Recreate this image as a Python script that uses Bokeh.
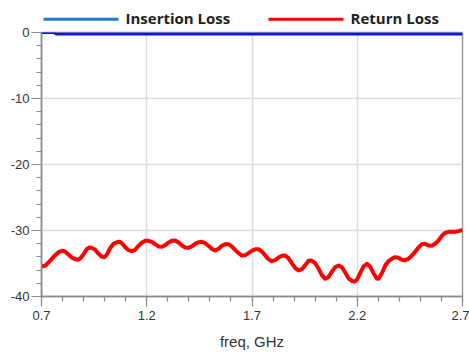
from bokeh.plotting import figure
from bokeh.layouts import column
from bokeh.models import FixedTicker, Range1d, PrintfTickFormatter
from bokeh.core.properties import value
from bokeh.embed import file_html
from bokeh.resources import INLINE

# Return loss (dB) vs frequency (GHz)
rl_freq = [0.700, 0.717, 0.733, 0.749, 0.765, 0.781, 0.797, 0.812, 0.828, 0.844,
           0.860, 0.873, 0.884, 0.900, 0.915, 0.926, 0.939, 0.955, 0.971, 0.987,
           0.998, 1.010, 1.026, 1.042, 1.058, 1.071, 1.082, 1.098, 1.113, 1.129,
           1.145, 1.161, 1.177, 1.193, 1.208, 1.224, 1.240, 1.256, 1.272, 1.288,
           1.303, 1.319, 1.335, 1.351, 1.367, 1.383, 1.398, 1.414, 1.430, 1.446,
           1.462, 1.478, 1.493, 1.509, 1.525, 1.541, 1.557, 1.573, 1.588, 1.604,
           1.620, 1.636, 1.652, 1.668, 1.683, 1.699, 1.715, 1.731, 1.747, 1.763,
           1.778, 1.794, 1.810, 1.826, 1.842, 1.858, 1.873, 1.889, 1.905, 1.921,
           1.937, 1.953, 1.968, 1.984, 2.000, 2.016, 2.032, 2.048, 2.063, 2.079,
           2.095, 2.111, 2.127, 2.143, 2.158, 2.174, 2.187, 2.198, 2.214, 2.230,
           2.246, 2.261, 2.277, 2.293, 2.301, 2.317, 2.333, 2.348, 2.364, 2.380,
           2.396, 2.412, 2.428, 2.443, 2.459, 2.475, 2.491, 2.507, 2.523, 2.539,
           2.554, 2.570, 2.586, 2.602, 2.618, 2.634, 2.649, 2.665, 2.681, 2.697,
           2.700]
rl_db = [-35.45, -35.35, -34.85, -34.29, -33.74, -33.28, -33.08, -33.18, -33.64, -34.09,
         -34.34, -34.44, -34.24, -33.59, -32.83, -32.58, -32.63, -32.93, -33.54, -33.99,
         -34.04, -33.69, -32.68, -32.02, -31.77, -31.72, -31.92, -32.53, -32.98, -33.13,
         -32.93, -32.32, -31.82, -31.57, -31.57, -31.72, -32.07, -32.42, -32.47, -32.22,
         -31.82, -31.57, -31.52, -31.82, -32.27, -32.58, -32.63, -32.42, -32.02, -31.77,
         -31.72, -31.92, -32.32, -32.78, -33.03, -32.78, -32.32, -32.07, -32.07, -32.42,
         -32.93, -33.43, -33.79, -33.74, -33.43, -33.08, -32.83, -32.83, -33.18, -33.79,
         -34.34, -34.65, -34.50, -34.09, -33.84, -33.79, -34.19, -34.95, -35.66, -36.06,
         -35.86, -35.25, -34.60, -34.55, -34.95, -35.76, -36.77, -37.32, -37.07, -36.26,
         -35.56, -35.30, -35.56, -36.36, -37.22, -37.63, -37.73, -37.48, -36.47, -35.45,
         -35.05, -35.45, -36.47, -37.27, -37.32, -36.47, -35.30, -34.65, -34.29, -34.04,
         -34.14, -34.44, -34.50, -34.29, -33.84, -33.23, -32.58, -32.07, -32.02, -32.27,
         -32.32, -32.02, -31.52, -30.81, -30.35, -30.20, -30.20, -30.20, -30.10, -29.95,
         -29.93]

# Insertion loss (dB)
il_freq = [0.70, 0.76, 0.77, 2.70]
il_db = [0.0, 0.0, -0.22, -0.22]

x_ticks = [0.7, 1.2, 1.7, 2.2, 2.7]
x_minor = [0.7, 0.8, 0.9, 1.0, 1.1, 1.2, 1.3, 1.4, 1.5, 1.6, 1.7, 1.8, 1.9, 2.0,
           2.1, 2.2, 2.3, 2.4, 2.5, 2.6, 2.7]
y_ticks = [-40, -30, -20, -10, 0]
y_minor = list(range(-40, 1, 2))

legend_labels = ["Insertion Loss", "Return Loss"]
legend_colors = ["#1a7ccf", "#ff0000"]

# ---- legend strip: its frame is aligned with the main frame (page x 41..462) ----
LEG_H = 27
leg = figure(width=469, height=LEG_H, output_backend="svg", toolbar_location=None,
             x_range=Range1d(41, 462), y_range=Range1d(LEG_H, 0),
             min_border_left=41, min_border_right=7, min_border_top=0, min_border_bottom=0,
             x_axis_type=None, y_axis_type=None)
leg.grid.visible = False
leg.outline_line_color = None
leg.background_fill_color = "white"
leg.border_fill_color = "white"
sw_x0 = [43, 268]
sw_len = 75
sw_y = 18.7
leg.segment(x0=sw_x0, y0=[sw_y] * 2, x1=[x + sw_len for x in sw_x0], y1=[sw_y] * 2,
            line_color=legend_colors, line_width=3)
leg.text(x=[x + sw_len + 7 for x in sw_x0], y=[17.6] * 2, text=legend_labels,
         text_baseline="middle", text_align="left",
         text_font=value("Open Sans"), text_font_style="bold",
         text_font_size="15px", text_color="#222222")

# ---- main plot ----
p = figure(width=469, height=356 - LEG_H, output_backend="svg",
           toolbar_location=None, x_range=Range1d(0.7, 2.7), y_range=Range1d(-40, 0),
           min_border_left=41, min_border_top=32 - LEG_H, min_border_bottom=60,
           min_border_right=7)
p.background_fill_color = "white"
p.border_fill_color = "white"
p.outline_line_color = "#9a9a9a"
p.outline_line_width = 1.5

for ax in (p.xaxis[0], p.yaxis[0]):
    ax.axis_line_color = "#8a8a8a"
    ax.axis_line_width = 1.5
    ax.major_tick_line_color = "#8a8a8a"
    ax.minor_tick_line_color = "#8a8a8a"
    ax.major_tick_line_width = 1.2
    ax.minor_tick_line_width = 1.2
    ax.major_tick_out = 10
    ax.major_tick_in = 0
    ax.minor_tick_out = 5
    ax.minor_tick_in = 0
    ax.major_label_text_font = "Liberation Sans"
    ax.major_label_text_font_size = "13px"
    ax.major_label_text_color = "#333333"

p.yaxis.major_label_standoff = 2
p.xaxis.major_label_standoff = 4
p.xaxis.ticker = FixedTicker(ticks=x_ticks, minor_ticks=x_minor)
p.yaxis.ticker = FixedTicker(ticks=y_ticks, minor_ticks=y_minor)
p.xaxis.formatter = PrintfTickFormatter(format="%.1f")
p.yaxis.formatter = PrintfTickFormatter(format="%d")
p.xaxis.axis_label = "freq, GHz"
p.xaxis.axis_label_text_font = "Liberation Sans"
p.xaxis.axis_label_text_font_size = "15px"
p.xaxis.axis_label_text_font_style = "normal"
p.xaxis.axis_label_text_color = "#333333"
p.xaxis.axis_label_standoff = 10

p.xgrid.ticker = FixedTicker(ticks=x_ticks)
p.ygrid.ticker = FixedTicker(ticks=y_ticks)
p.grid.grid_line_color = "#dcdcdc"
p.grid.grid_line_width = 1.5

p.line(il_freq, il_db, line_color="#1010ee", line_width=3)
p.line(rl_freq, rl_db, line_color="#ff0000", line_width=4, line_join="round")

layout = column(leg, p, spacing=0)
open("out.html", "w").write(file_html(layout, INLINE))
